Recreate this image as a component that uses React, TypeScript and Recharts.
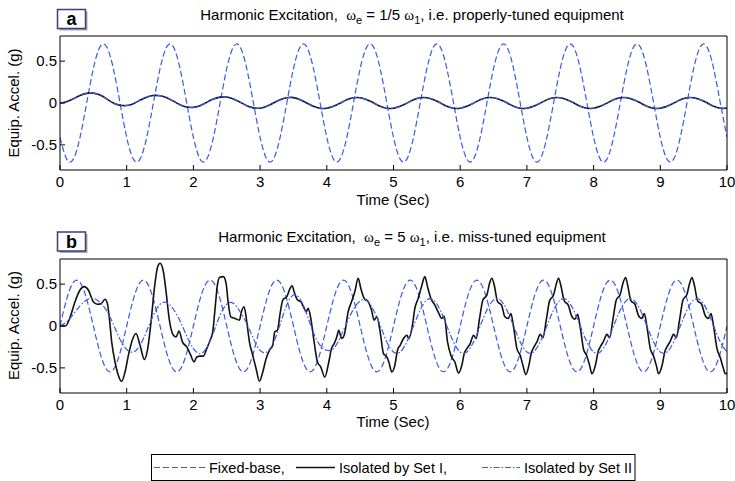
import React from 'react';
import { LineChart, Line, XAxis, YAxis } from 'recharts';

// shared time grid (s) for the smooth series
const timeGrid = [
  0, 0.1, 0.2, 0.3, 0.4, 0.5, 0.6, 0.7, 0.8, 0.9,
  1, 1.1, 1.2, 1.3, 1.4, 1.5, 1.6, 1.7, 1.8, 1.9,
  2, 2.1, 2.2, 2.3, 2.4, 2.5, 2.6, 2.7, 2.8, 2.9,
  3, 3.1, 3.2, 3.3, 3.4, 3.5, 3.6, 3.7, 3.8, 3.9,
  4, 4.1, 4.2, 4.3, 4.4, 4.5, 4.6, 4.7, 4.8, 4.9,
  5, 5.1, 5.2, 5.3, 5.4, 5.5, 5.6, 5.7, 5.8, 5.9,
  6, 6.1, 6.2, 6.3, 6.4, 6.5, 6.6, 6.7, 6.8, 6.9,
  7, 7.1, 7.2, 7.3, 7.4, 7.5, 7.6, 7.7, 7.8, 7.9,
  8, 8.1, 8.2, 8.3, 8.4, 8.5, 8.6, 8.7, 8.8, 8.9,
  9, 9.1, 9.2, 9.3, 9.4, 9.5, 9.6, 9.7, 9.8, 9.9,
  10,
];

// panel a: fixed-base response
const fixedBaseA = [
  -0.41, -0.67, -0.67, -0.41, 0, 0.41, 0.67, 0.67, 0.41, 0,
  -0.41, -0.67, -0.67, -0.41, 0, 0.41, 0.67, 0.67, 0.41, 0,
  -0.41, -0.67, -0.67, -0.41, 0, 0.41, 0.67, 0.67, 0.41, 0,
  -0.41, -0.67, -0.67, -0.41, 0, 0.41, 0.67, 0.67, 0.41, 0,
  -0.41, -0.67, -0.67, -0.41, 0, 0.41, 0.67, 0.67, 0.41, 0,
  -0.41, -0.67, -0.67, -0.41, 0, 0.41, 0.67, 0.67, 0.41, 0,
  -0.41, -0.67, -0.67, -0.41, 0, 0.41, 0.67, 0.67, 0.41, 0,
  -0.41, -0.67, -0.67, -0.41, 0, 0.41, 0.67, 0.67, 0.41, 0,
  -0.41, -0.67, -0.67, -0.41, 0, 0.41, 0.67, 0.67, 0.41, 0,
  -0.41, -0.67, -0.67, -0.41, 0, 0.41, 0.67, 0.67, 0.41, 0,
  -0.41,
];

// panel a: Set I and Set II sit on top of each other
const isolatedA = [
  0, 0.015, 0.05, 0.09, 0.115, 0.118, 0.095, 0.05, 0, -0.027,
  -0.03, -0.008, 0.033, 0.07, 0.09, 0.087, 0.063, 0.023, -0.02, -0.048,
  -0.052, -0.032, 0.008, 0.047, 0.07, 0.071, 0.048, 0.01, -0.032, -0.058,
  -0.062, -0.04, 0, 0.04, 0.063, 0.064, 0.04, 0, -0.04, -0.064,
  -0.062, -0.04, -0.002, 0.038, 0.062, 0.063, 0.04, 0.002, -0.038, -0.062,
  -0.062, -0.04, -0.002, 0.038, 0.062, 0.063, 0.04, 0.002, -0.038, -0.062,
  -0.062, -0.04, -0.002, 0.038, 0.062, 0.063, 0.04, 0.002, -0.038, -0.062,
  -0.062, -0.04, -0.002, 0.038, 0.062, 0.063, 0.04, 0.002, -0.038, -0.062,
  -0.062, -0.04, -0.002, 0.038, 0.062, 0.063, 0.04, 0.002, -0.038, -0.062,
  -0.062, -0.04, -0.002, 0.038, 0.062, 0.063, 0.04, 0.002, -0.038, -0.062,
  -0.062,
];

// panel b: fixed-base response
const fixedBaseB = [
  0, 0.32, 0.52, 0.52, 0.32, 0, -0.32, -0.52, -0.52, -0.32,
  0, 0.32, 0.52, 0.52, 0.32, 0, -0.32, -0.52, -0.52, -0.32,
  0, 0.32, 0.52, 0.52, 0.32, 0, -0.32, -0.52, -0.52, -0.32,
  0, 0.32, 0.52, 0.52, 0.32, 0, -0.32, -0.52, -0.52, -0.32,
  0, 0.32, 0.52, 0.52, 0.32, 0, -0.32, -0.52, -0.52, -0.32,
  0, 0.32, 0.52, 0.52, 0.32, 0, -0.32, -0.52, -0.52, -0.32,
  0, 0.32, 0.52, 0.52, 0.32, 0, -0.32, -0.52, -0.52, -0.32,
  0, 0.32, 0.52, 0.52, 0.32, 0, -0.32, -0.52, -0.52, -0.32,
  0, 0.32, 0.52, 0.52, 0.32, 0, -0.32, -0.52, -0.52, -0.32,
  0, 0.32, 0.52, 0.52, 0.32, 0, -0.32, -0.52, -0.52, -0.32,
  0,
];

// panel b: isolated by Set II
const setIIB = [
  0, 0.05, 0.14, 0.24, 0.31, 0.33, 0.28, 0.18, 0.02, -0.16,
  -0.28, -0.31, -0.23, -0.06, 0.13, 0.26, 0.28, 0.2, 0.06, -0.12,
  -0.27, -0.33, -0.26, -0.08, 0.13, 0.26, 0.27, 0.17, 0.03, -0.15,
  -0.29, -0.31, -0.2, 0.02, 0.25, 0.37, 0.32, 0.14, -0.08, -0.23,
  -0.29, -0.27, -0.14, 0.04, 0.2, 0.3, 0.3, 0.19, 0.01, -0.19,
  -0.31, -0.31, -0.19, 0, 0.19, 0.31, 0.31, 0.19, 0, -0.19,
  -0.31, -0.31, -0.19, 0, 0.19, 0.31, 0.31, 0.19, 0, -0.19,
  -0.31, -0.31, -0.19, 0, 0.19, 0.31, 0.31, 0.19, 0, -0.19,
  -0.31, -0.31, -0.19, 0, 0.19, 0.31, 0.31, 0.19, 0, -0.19,
  -0.31, -0.31, -0.19, 0, 0.19, 0.31, 0.31, 0.19, 0, -0.19,
  -0.31,
];

// panel b: isolated by Set I, [time, accel] read at the wiggles
const setIB: [number, number][] = [
  [0, 0], [0.08, 0], [0.15, 0.1], [0.225, 0.29], [0.3, 0.43], [0.365, 0.47], [0.425, 0.43],
  [0.5, 0.29], [0.56, 0.26], [0.62, 0.27], [0.675, 0.32], [0.71, 0.27], [0.74, 0.09],
  [0.775, -0.19], [0.825, -0.43], [0.875, -0.59], [0.925, -0.66], [0.975, -0.55],
  [1.025, -0.35], [1.075, -0.19], [1.14, -0.09], [1.2, -0.23], [1.265, -0.4], [1.315, -0.27],
  [1.365, 0.05], [1.415, 0.45], [1.465, 0.71], [1.5, 0.75], [1.55, 0.65], [1.59, 0.41],
  [1.64, 0.07], [1.7, -0.11], [1.74, -0.13], [1.785, -0.06], [1.835, -0.19], [1.9, -0.25],
  [1.95, -0.33], [2.01, -0.43], [2.05, -0.37], [2.1, -0.36], [2.15, -0.36], [2.2, -0.27],
  [2.25, -0.17], [2.29, -0.07], [2.325, 0.21], [2.36, 0.49], [2.39, 0.58], [2.45, 0.59],
  [2.49, 0.51], [2.52, 0.29], [2.56, 0.11], [2.625, 0.09], [2.69, 0.07], [2.72, 0.17],
  [2.76, 0.23], [2.8, 0.05], [2.84, -0.19], [2.89, -0.35], [2.94, -0.51], [2.99, -0.66],
  [3.04, -0.55], [3.09, -0.39], [3.14, -0.29], [3.19, -0.23], [3.22, -0.07], [3.26, -0.05],
  [3.3, 0.15], [3.34, 0.31], [3.4, 0.35], [3.45, 0.45], [3.48, 0.48], [3.51, 0.41],
  [3.56, 0.31], [3.61, 0.29], [3.65, 0.23], [3.69, 0.17], [3.72, 0.21], [3.76, 0.09],
  [3.81, -0.19], [3.86, -0.43], [3.91, -0.49], [3.97, -0.61], [4.03, -0.43], [4.07, -0.27],
  [4.11, -0.21], [4.15, -0.13], [4.18, -0.05], [4.22, -0.15], [4.26, -0.11], [4.32, 0.17],
  [4.38, 0.31], [4.42, 0.41], [4.47, 0.57], [4.51, 0.45], [4.56, 0.33], [4.62, 0.29],
  [4.67, 0.19], [4.71, 0.07], [4.75, 0.11], [4.8, -0.07], [4.85, -0.33], [4.9, -0.37],
  [4.93, -0.43], [4.975, -0.55], [5.02, -0.47], [5.06, -0.29], [5.1, -0.23], [5.15, -0.15],
  [5.2, -0.11], [5.23, -0.15], [5.28, -0.01], [5.32, 0.21], [5.37, 0.33], [5.42, 0.47],
  [5.47, 0.59], [5.51, 0.47], [5.56, 0.33], [5.62, 0.25], [5.68, 0.15], [5.72, 0.09],
  [5.76, 0.12], [5.81, -0.19], [5.86, -0.35], [5.92, -0.43], [5.975, -0.56], [6.03, -0.45],
  [6.06, -0.33], [6.1, -0.27], [6.15, -0.21], [6.2, -0.11], [6.24, -0.15], [6.29, 0.09],
  [6.34, 0.31], [6.4, 0.37], [6.44, 0.51], [6.475, 0.57], [6.51, 0.49], [6.56, 0.29],
  [6.62, 0.25], [6.67, 0.11], [6.72, 0.09], [6.76, 0.15], [6.8, -0.01], [6.85, -0.27],
  [6.9, -0.35], [6.94, -0.47], [6.985, -0.58], [7.03, -0.47], [7.07, -0.31], [7.1, -0.26],
  [7.15, -0.19], [7.2, -0.1], [7.24, -0.14], [7.29, 0.07], [7.34, 0.3], [7.4, 0.37],
  [7.44, 0.5], [7.475, 0.57], [7.51, 0.48], [7.56, 0.3], [7.62, 0.25], [7.67, 0.12],
  [7.72, 0.08], [7.76, 0.14], [7.8, -0.02], [7.85, -0.28], [7.9, -0.36], [7.94, -0.47],
  [7.975, -0.57], [8.03, -0.46], [8.07, -0.3], [8.1, -0.25], [8.15, -0.18], [8.2, -0.1],
  [8.24, -0.14], [8.29, 0.08], [8.34, 0.31], [8.4, 0.38], [8.44, 0.51], [8.48, 0.58],
  [8.51, 0.49], [8.56, 0.3], [8.62, 0.26], [8.67, 0.13], [8.72, 0.09], [8.76, 0.15],
  [8.8, -0.01], [8.85, -0.27], [8.9, -0.36], [8.94, -0.47], [8.975, -0.57], [9.03, -0.46],
  [9.07, -0.3], [9.1, -0.25], [9.15, -0.18], [9.2, -0.1], [9.24, -0.14], [9.29, 0.08],
  [9.34, 0.31], [9.4, 0.38], [9.44, 0.51], [9.475, 0.58], [9.51, 0.49], [9.56, 0.3],
  [9.62, 0.26], [9.67, 0.13], [9.72, 0.09], [9.76, 0.15], [9.8, -0.01], [9.85, -0.27],
  [9.9, -0.38], [9.94, -0.49], [9.975, -0.57], [10, -0.56],
];

const xTicks = [0, 1, 2, 3, 4, 5, 6, 7, 8, 9, 10];
const yTicks = [-0.5, 0, 0.5];

const FONT = 'Liberation Sans, Arial, Helvetica, sans-serif';
const BLUE = '#3a5ae8';

const onGrid = (vals: number[]) => timeGrid.map((t, i) => ({ t, v: vals[i] }));
const fromPairs = (pairs: [number, number][]) => pairs.map(([t, v]) => ({ t, v }));

function Panel({ top, children }: { top: number; children: React.ReactNode }) {
  const tickStyle = { fill: '#000', fontSize: 15, fontFamily: FONT };
  return (
    <div style={{ position: 'absolute', left: 0, top }}>
      <LineChart width={735} height={230} margin={{ top: 35, right: 7, bottom: 30, left: 0 }}>
        <XAxis
          xAxisId="b"
          dataKey="t"
          type="number"
          domain={[0, 10]}
          ticks={xTicks}
          allowDataOverflow
          height={30}
          tickSize={-5}
          tickMargin={11}
          tick={tickStyle}
          stroke="#000"
        />
        <XAxis
          xAxisId="t"
          orientation="top"
          type="number"
          domain={[0, 10]}
          ticks={xTicks}
          allowDataOverflow
          height={1}
          tickSize={-5}
          tick={false}
          stroke="#000"
        />
        <YAxis
          yAxisId="l"
          type="number"
          domain={[-0.8, 0.8]}
          ticks={yTicks}
          allowDataOverflow
          width={60}
          tickSize={-5}
          tickMargin={8}
          tick={tickStyle}
          tickFormatter={(v: number) => String(v)}
          stroke="#000"
        />
        <YAxis
          yAxisId="r"
          orientation="right"
          type="number"
          domain={[-0.8, 0.8]}
          ticks={yTicks}
          allowDataOverflow
          width={1}
          tickSize={-5}
          tick={false}
          stroke="#000"
        />
        {children}
      </LineChart>
    </div>
  );
}

function Header({ dy, tag, ratio, kind }: { dy: number; tag: string; ratio: string; kind: string }) {
  return (
    <g transform={`translate(0, ${dy})`}>
      <rect x={59.5} y={11.5} width={28} height={19} fill="#a8a8b0" />
      <rect x={57.5} y={9.5} width={28} height={19} fill="#fdfdff" stroke="#3d3d7a" strokeWidth={1.5} />
      <text x={71.5} y={25} fontSize={18} fontWeight="bold" textAnchor="middle">{tag}</text>
      <text x={412} y={19.5} fontSize={15} textAnchor="middle" style={{ whiteSpace: 'pre' }}>
        <tspan>{'Harmonic Excitation,  '}</tspan>
        <tspan fontFamily="Liberation Serif, serif">{'\u03c9'}</tspan>
        <tspan fontSize={11} dy={4}>e</tspan>
        <tspan dy={-4}>{` = ${ratio} `}</tspan>
        <tspan fontFamily="Liberation Serif, serif">{'\u03c9'}</tspan>
        <tspan fontSize={11} dy={4}>1</tspan>
        <tspan dy={-4}>{`, i.e. ${kind} equipment`}</tspan>
      </text>
      <text x={393} y={204.5} fontSize={15} textAnchor="middle">Time (Sec)</text>
      <text transform="rotate(-90)" x={-103} y={19} fontSize={15} textAnchor="middle">Equip. Accel. (g)</text>
    </g>
  );
}

export default function App() {
  const dashed = '6 3';
  const dashDot = '6 2 1.5 2';
  return (
    <div style={{ position: 'absolute', left: 0, top: 0, width: 735, height: 481, background: '#fff', overflow: 'hidden' }}>
      <Panel top={0}>
        <Line xAxisId="b" yAxisId="l" data={onGrid(fixedBaseA)} dataKey="v" type="natural" stroke={BLUE} strokeWidth={1.2} strokeDasharray={dashed} dot={false} isAnimationActive={false} />
        <Line xAxisId="b" yAxisId="l" data={onGrid(isolatedA)} dataKey="v" type="natural" stroke="#111" strokeWidth={1.6} dot={false} isAnimationActive={false} />
        <Line xAxisId="b" yAxisId="l" data={onGrid(isolatedA)} dataKey="v" type="natural" stroke={BLUE} strokeWidth={1.2} strokeDasharray={dashDot} dot={false} isAnimationActive={false} />
      </Panel>
      <Panel top={223}>
        <Line xAxisId="b" yAxisId="l" data={onGrid(fixedBaseB)} dataKey="v" type="natural" stroke={BLUE} strokeWidth={1.2} strokeDasharray={dashed} dot={false} isAnimationActive={false} />
        <Line xAxisId="b" yAxisId="l" data={fromPairs(setIB)} dataKey="v" type="monotone" stroke="#111" strokeWidth={1.6} dot={false} isAnimationActive={false} />
        <Line xAxisId="b" yAxisId="l" data={onGrid(setIIB)} dataKey="v" type="natural" stroke={BLUE} strokeWidth={1.2} strokeDasharray={dashDot} dot={false} isAnimationActive={false} />
      </Panel>
      <svg width={735} height={481} style={{ position: 'absolute', left: 0, top: 0, pointerEvents: 'none' }} fontFamily={FONT} fill="#000">
        <Header dy={0} tag="a" ratio="1/5" kind="properly-tuned" />
        <Header dy={222.5} tag="b" ratio="5" kind="miss-tuned" />
        <rect x={151.5} y={454.5} width={483.5} height={26} fill="#fff" stroke="#000" strokeWidth={1} />
        <line x1={154} y1={467.5} x2={207} y2={467.5} stroke={BLUE} strokeWidth={1.2} strokeDasharray={dashed} />
        <text x={209} y={473} fontSize={14.5}>Fixed-base,</text>
        <line x1={296} y1={467.5} x2={335} y2={467.5} stroke="#111" strokeWidth={1.6} />
        <text x={339} y={473} fontSize={14.5}>Isolated by Set I,</text>
        <line x1={482} y1={467.5} x2={520} y2={467.5} stroke={BLUE} strokeWidth={1.2} strokeDasharray={dashDot} />
        <text x={524} y={473} fontSize={14.5}>Isolated by Set II</text>
      </svg>
    </div>
  );
}
